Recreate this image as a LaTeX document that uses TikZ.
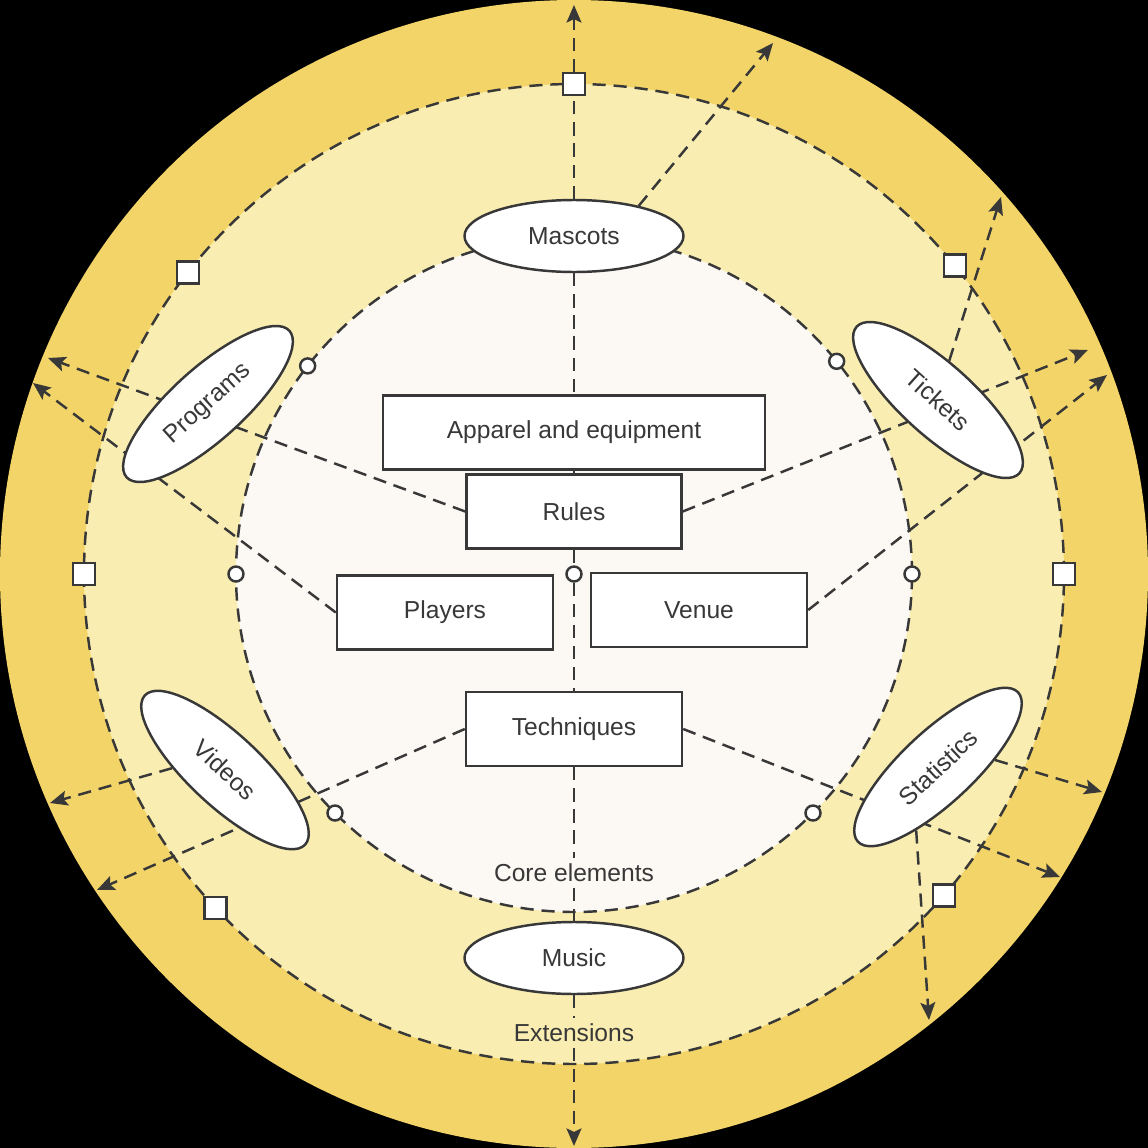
\documentclass[tikz,border=0pt]{standalone}
\usepackage{fontspec}
\setmainfont{Liberation Sans}
\usetikzlibrary{shapes.geometric,arrows.meta}

\definecolor{ink}{HTML}{383838}
\definecolor{coreW}{HTML}{FCF9F4}
\definecolor{midY}{HTML}{F9EDB2}
\definecolor{outY}{HTML}{F3D468}

\pgfdeclarelayer{disc}
\pgfdeclarelayer{wires}
\pgfsetlayers{disc,wires,main}

\begin{document}
\begin{tikzpicture}[x=2cm, y=2cm,
  core/.style={draw=ink, line width=1.4pt, fill=white, minimum width=#1,
               minimum height=1.48cm, text=ink, font=\fontsize{14}{16}\selectfont},
  core/.default=4.32cm,
  ext/.style={ellipse, draw=ink, line width=1.4pt, fill=white, inner sep=0pt,
              minimum width=4.38cm, minimum height=1.44cm, text=ink,
              font=\fontsize{14}{16}\selectfont},
  flow/.style={draw=ink, line width=1.4pt, dash pattern=on 7.5pt off 4.5pt},
  outflow/.style={flow, -{Stealth[length=10pt, width=8.5pt, inset=2pt]}},
  sq/.style={draw=ink, line width=1.4pt, fill=white, minimum size=0.44cm, inner sep=0pt},
  dot/.style={circle, draw=ink, line width=1.4pt, fill=white, minimum size=0.3cm, inner sep=0pt},
  lbl/.style={text=ink, font=\fontsize{14}{16}\selectfont, inner sep=3pt}
]
  %-- disc and rings
  \begin{pgfonlayer}{disc}
    \fill[black] (-5.74,-5.74) rectangle (5.74,5.74);
    \fill[outY]  (0,0) circle (5.74);
    \fill[midY]  (0,0) circle (4.9);
    \fill[coreW] (0,0) circle (3.38);
    \draw[flow] (0,0) circle (4.9);
    \draw[flow] (0,0) circle (3.38);
  \end{pgfonlayer}

  %-- core elements
  \node[core=7.64cm] (appar)   at (0,     1.415) {Apparel and equipment};
  \node[core=4.3cm]  (rules)   at (0,     0.625) {Rules};
  \node[core]        (players) at (-1.29, -0.385) {Players};
  \node[core]        (venue)   at (1.25,  -0.36)  {Venue};
  \node[core]        (tech)    at (0,     -1.55)  {Techniques};
  \node[dot]         (hub)     at (0,     0)      {};

  %-- extensions
  \node[ext]            (mascots)  at (0,     3.38)  {Mascots};
  \node[ext]            (music)    at (0,     -3.84) {Music};
  \node[ext, rotate=42]  (programs) at (-3.66, 1.70)  {Programs};
  \node[ext, rotate=-42] (tickets)  at (3.64,  1.74)  {Tickets};
  \node[ext, rotate=-43] (videos)   at (-3.49, -1.96) {Videos};
  \node[ext, rotate=43]  (stats)    at (3.64,  -1.93) {Statistics};

  \node[lbl] (corelbl) at (0, -2.99) {Core elements};
  \node[lbl] (extlbl)  at (0, -4.59) {Extensions};

  %-- markers on the rings
  \foreach \a in {90,39,0,-41,142,180,223}
    \node[sq] (sq\a) at (\a:4.9) {};
  \foreach \a in {142,39,180,0,225,315}
    \node[dot] (dot\a) at (\a:3.38) {};

  %-- arrow ends on the rim
  \coordinate (tipTop) at (0,     5.69);
  \coordinate (tipMR)  at (1.99,  5.31);
  \coordinate (tipTU)  at (4.27,  3.77);
  \coordinate (tipTR1) at (5.14,  2.24);
  \coordinate (tipTR2) at (5.33,  1.99);
  \coordinate (tipSR1) at (5.28,  -2.18);
  \coordinate (tipSR2) at (4.86,  -3.03);
  \coordinate (tipSD)  at (3.55,  -4.46);
  \coordinate (tipBot) at (0,     -5.72);
  \coordinate (tipVL2) at (-4.77, -3.16);
  \coordinate (tipVL1) at (-5.24, -2.29);
  \coordinate (tipPL2) at (-5.41, 1.91);
  \coordinate (tipPL1) at (-5.26, 2.16);

  %-- connectors
  \begin{pgfonlayer}{wires}
    \draw[outflow] (mascots) -- (tipTop);
    \draw[flow]    (mascots) -- (appar);
    \draw[flow]    (appar) -- (rules);
    \draw[flow]    (rules) -- (hub) -- (tech);
    \draw[flow]    (tech) -- (corelbl) -- (music) -- (extlbl);
    \draw[outflow] (extlbl) -- (tipBot);
    \draw[outflow] (rules.west) -- (tipPL1);
    \draw[outflow] (players.west) -- (tipPL2);
    \draw[outflow] (rules.east) -- (tipTR1);
    \draw[outflow] (venue.east) -- (tipTR2);
    \draw[outflow] (tech.west) -- (tipVL2);
    \draw[outflow] (tech.east) -- (tipSR2);
    \draw[outflow] (mascots.25) -- (tipMR);
    \draw[outflow] (tickets.116) -- (tipTU);
    \draw[outflow] (videos.221) -- (tipVL1);
    \draw[outflow] (stats.324) -- (tipSR1);
    \draw[outflow] (stats.208) -- (tipSD);
  \end{pgfonlayer}
\end{tikzpicture}
\end{document}
